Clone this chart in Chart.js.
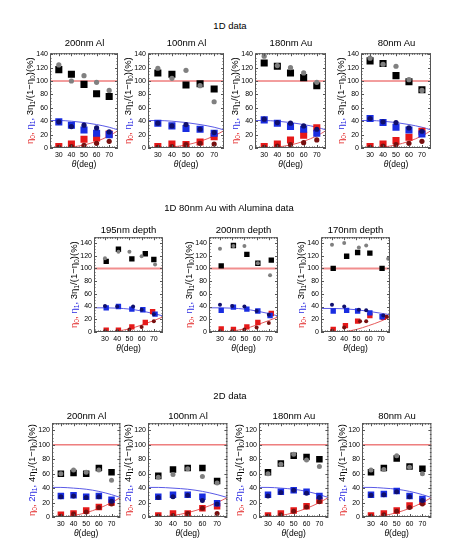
<!DOCTYPE html>
<html>
<head>
<meta charset="utf-8">
<script src="https://cdn.jsdelivr.net/npm/chart.js@4.4.0/dist/chart.umd.min.js"></script>
<style>
  body { margin: 0; background: #fff; font-family: "Liberation Sans", Arial, sans-serif; }
  #wrap { position: relative; width: 460px; height: 545px; overflow: hidden; }
  .lbl { position: absolute; font-size: 9.5px; color: #000; white-space: nowrap; transform: translate(-50%, -50%); }
  canvas { position: absolute; }
</style>
</head>
<body>
<div id="wrap"></div>
<script>
// ---- data ----
const angles = [30, 40, 50, 60, 70];
const xTicks = [30, 40, 50, 60, 70];

// 1D data (one row per panel, values at angles)
const titles1D = ['200nm Al', '100nm Al', '180nm Au', '80nm Au'];
const black1D = [[117, 110, 95, 81, 77], [112, 110, 94, 96, 88], [127, 122, 112, 105, 93], [130, 126, 108, 99, 87]];
const gray1D = [[124, 100, 108, 98, 86], [119, 104, 116, 93, 69], [137, 123, 120, 112, 98], [134, 125, 122, 102, 86]];
const blue1D = [[39, 34, 27, 22, 20], [37, 33, 29, 28, 22], [42, 37, 32, 28, 22], [44, 38, 31, 27, 21]];
const navy1D = [[39, 32, 34, 30, 24], [37, 33, 35, 28, 23], [43, 38, 37, 33, 28], [44, 39, 38, 30, 25]];
const red1D = [[2, 6, 13, 15, 21], [2, 6, 5, 9, 17], [2, 6, 12, 19, 30], [2, 6, 11, 16, 25]];
const maroon1D = [[1, 2, 4, 7, 10], [1, 2, 5, 7, 6], [1, 3, 5, 8, 12], [1, 3, 5, 7, 10]];
const blueTheory1D = [[23, 41], [30, 41], [40, 40], [50, 38], [60, 35], [70, 31], [77, 27]];
const redTheory1D = [[23, 0], [30, 0], [40, 1.5], [50, 4.5], [60, 10], [70, 18], [77, 26]];

// 1D 80nm Au with Alumina data ([angle, value] pairs, angles shift a little)
const titlesAl = ['195nm depth', '200nm depth', '170nm depth'];
const blackAl = [
  [[31, 111], [41, 130], [52, 115], [63, 123], [70, 114]],
  [[31, 104], [41, 136], [52, 122], [61, 108], [72, 113]],
  [[31, 100], [42, 119], [51, 125], [61, 124], [71, 100]]];
const grayAl = [
  [[30, 116], [41, 126], [50, 126], [60, 119], [71, 106]],
  [[30, 131], [41, 135], [50, 135], [61, 108], [71, 89]],
  [[30, 137], [40, 140], [52, 133], [58, 136], [76, 115]]];
const blueAl = [
  [[31, 38], [41, 40], [52, 36], [61, 35], [71, 28]],
  [[31, 34], [41, 39], [52, 36], [61, 33], [71, 26]],
  [[31, 33], [42, 34], [51, 33], [61, 30], [71, 24]]];
const navyAl = [
  [[30, 41], [40, 40], [53, 40], [60, 35], [70, 28]],
  [[30, 43], [40, 41], [50, 40], [60, 33], [70, 27]],
  [[30, 43], [40, 40], [52, 35], [58, 34], [72, 26]]];
const redAl = [
  [[31, 3], [41, 3], [52, 8], [63, 15], [69, 32]],
  [[31, 5], [41, 4], [52, 8], [61, 15], [72, 29]],
  [[31, 4], [41, 10], [51, 17], [61, 26], [72, 23]]];
const maroonAl = [
  [[30, 1], [40, 1], [50, 4], [60, 8], [70, 17]],
  [[30, 1], [40, 1], [50, 4], [60, 7], [70, 14]],
  [[30, 2], [40, 7], [53, 17], [58, 17], [75, 24]]];
const blueTheoryAl = [
  [[21, 38], [30, 38], [40, 37.5], [50, 36], [60, 33], [70, 29], [78, 25]],
  [[21, 38], [30, 38], [40, 37.5], [50, 36], [60, 33], [70, 29], [78, 25]],
  [[21, 37], [30, 37], [40, 36.5], [50, 35], [60, 32.5], [70, 29.5], [78, 27]]];
const redTheoryAl = [
  [[21, 0], [32, 0], [40, 1.5], [50, 5], [60, 11], [70, 18], [78, 24]],
  [[21, 0], [32, 0], [40, 1.5], [50, 5], [60, 11], [70, 18], [78, 24]],
  [[21, 0], [38, 0], [45, 2], [50, 4], [60, 10], [70, 17], [78, 24]]];

// 2D data
const titles2D = ['200nm Al', '100nm Al', '180nm Au', '80nm Au'];
const black2D = [[60, 61, 60, 68, 62], [57, 66, 68, 68, 50], [62, 74, 85, 83, 80], [62, 68, 81, 70, 67]];
const gray2D = [[60, 65, 62, 65, 51], [55, 59, 67, 56, 47], [60, 73, 87, 79, 70], [65, 66, 85, 69, 60]];
const blue2D = [[29, 30, 28, 29, 24], [28, 31, 31, 28, 19], [31, 35, 37, 35, 29], [31, 32, 36, 29, 25]];
const navy2D = [[28, 29, 27, 28, 22], [27, 28, 30, 23, 18], [29, 34, 37, 33, 27], [30, 31, 35, 28, 23]];
const red2D = [[3, 5, 9, 14, 20], [2, 5, 5, 12, 15], [2, 5, 9, 15, 23], [2, 5, 9, 16, 21]];
const maroon2D = [[1, 4, 7, 13, 18], [1, 2, 5, 12, 5], [1, 3, 8, 14, 21], [1, 3, 8, 13, 18]];
const blueTheory2D = [[23, 41], [30, 41], [40, 40], [50, 38.5], [60, 35.5], [70, 31], [77, 27]];
const redTheory2D = [[23, 0], [30, 0], [40, 2], [50, 6], [60, 12], [70, 20], [77, 27]];

// ---- layout / style ----
const FONT = '"Liberation Sans", Arial, sans-serif';
const RED = 'rgb(225,30,30)', BLUE = 'rgb(40,40,225)', BLK = '#000';
const PADL = 36, PADR = 4, PADT = 4, PADB = 26;

const yLabel3 = [['η', RED], ['0', RED, 1], [', ', RED], ['η', BLUE], ['1', BLUE, 1], [', ', BLUE],
  ['3η', BLK], ['1', BLK, 1], ['/(1−η', BLK], ['0', BLK, 1], [')(%)', BLK]];
const yLabel4 = [['η', RED], ['0', RED, 1], [', ', RED], ['2η', BLUE], ['1', BLUE, 1], [', ', BLUE],
  ['4η', BLK], ['1', BLK, 1], ['/(1−η', BLK], ['0', BLK, 1], [')(%)', BLK]];

const wrap = document.getElementById('wrap');

function addLabel(text, x, y) {
  const d = document.createElement('div');
  d.className = 'lbl';
  d.textContent = text;
  d.style.left = x + 'px';
  d.style.top = y + 'px';
  wrap.appendChild(d);
}

function drawRich(ctx, segs, x, y, size) {
  let total = 0;
  segs.forEach(s => {
    ctx.font = (s[2] ? size * 0.72 : size) + 'px ' + FONT;
    total += ctx.measureText(s[0]).width;
  });
  ctx.save();
  ctx.translate(x, y);
  ctx.rotate(-Math.PI / 2);
  ctx.textBaseline = 'middle';
  ctx.textAlign = 'left';
  let cx = -total / 2;
  segs.forEach(s => {
    ctx.font = (s[2] ? size * 0.72 : size) + 'px ' + FONT;
    ctx.fillStyle = s[1];
    ctx.fillText(s[0], cx, s[2] ? size * 0.3 : 0);
    cx += ctx.measureText(s[0]).width;
  });
  ctx.restore();
}

const decor = {
  id: 'decor',
  afterDraw(chart, args, o) {
    const { ctx, chartArea: a, scales: { x, y } } = chart;
    ctx.save();
    ctx.strokeStyle = '#555';
    ctx.lineWidth = 1;
    ctx.strokeRect(a.left + 0.5, a.top + 0.5, a.right - a.left - 1, a.bottom - a.top - 1);
    ctx.beginPath();
    for (let v = 20; v <= x.max; v += 2) {
      if (v < x.min) continue;
      const px = Math.round(x.getPixelForValue(v)) + 0.5;
      const len = v % 10 === 0 ? 3 : 1.5;
      ctx.moveTo(px, a.bottom); ctx.lineTo(px, a.bottom - len);
      ctx.moveTo(px, a.top); ctx.lineTo(px, a.top + len);
    }
    for (let v = 0; v <= y.max; v += 5) {
      const py = Math.round(y.getPixelForValue(v)) + 0.5;
      const len = v % 20 === 0 ? 3 : 1.5;
      ctx.moveTo(a.left, py); ctx.lineTo(a.left + len, py);
      ctx.moveTo(a.right, py); ctx.lineTo(a.right - len, py);
    }
    ctx.stroke();

    drawRich(ctx, o.ylabel, a.left - 20, (a.top + a.bottom) / 2, 9.5);

    // x title: italic theta + (deg)
    ctx.textBaseline = 'middle';
    ctx.fillStyle = '#000';
    ctx.font = 'italic 8.5px ' + FONT;
    const w1 = ctx.measureText('θ').width;
    ctx.font = '8.5px ' + FONT;
    const w2 = ctx.measureText('(deg)').width;
    const sx = (a.left + a.right) / 2 - (w1 + w2) / 2;
    const ty = a.bottom + 17;
    ctx.font = 'italic 8.5px ' + FONT;
    ctx.fillText('θ', sx, ty);
    ctx.font = '8.5px ' + FONT;
    ctx.fillText('(deg)', sx + w1, ty);
    ctx.restore();
  }
};

function xy(xs, ys) { return ys.map((v, i) => ({ x: xs[i], y: v })); }
function pairs(arr) { return arr.map(p => ({ x: p[0], y: p[1] })); }

function pointSet(data, color, style, r) {
  return { data, pointStyle: style, pointRadius: r, pointBackgroundColor: color,
    pointBorderColor: color, pointBorderWidth: 0, showLine: false };
}
function lineSet(data, color, w) {
  return { data, borderColor: color, borderWidth: w, pointRadius: 0, showLine: true,
    cubicInterpolationMode: 'monotone', fill: false };
}

function makePanel(p) {
  const W = p.right - p.left + PADL + PADR;
  const H = p.bottom - p.top + PADT + PADB;
  const cv = document.createElement('canvas');
  cv.width = W; cv.height = H;
  cv.style.left = (p.left - PADL) + 'px';
  cv.style.top = (p.top - PADT) + 'px';
  wrap.appendChild(cv);
  addLabel(p.title, (p.left + p.right) / 2, p.titleY);

  const s = p.sq, c = p.ci;
  new Chart(cv, {
    type: 'scatter',
    data: {
      datasets: [
        pointSet(p.gray, 'rgb(128,128,128)', 'circle', c),
        pointSet(p.navy, 'rgb(15,15,110)', 'circle', c),
        pointSet(p.maroon, 'rgb(120,15,15)', 'circle', c),
        pointSet(p.black, '#000', 'rect', s),
        pointSet(p.blue, 'rgb(25,45,225)', 'rect', s),
        pointSet(p.red, 'rgb(230,25,25)', 'rect', s),
        lineSet([{ x: p.xmin, y: 100 }, { x: p.xmax, y: 100 }], p.hColor, p.hWidth),
        lineSet(pairs(p.redT), 'rgb(230,90,90)', 1),
        lineSet(pairs(p.blueT), 'rgb(90,90,230)', 1)
      ]
    },
    options: {
      responsive: false,
      animation: false,
      devicePixelRatio: 1,
      layout: { padding: { left: 0, right: PADR, top: PADT, bottom: 0 } },
      plugins: { legend: { display: false }, tooltip: { enabled: false }, decor: { ylabel: p.ylabel } },
      scales: {
        x: {
          type: 'linear', min: p.xmin, max: p.xmax,
          afterBuildTicks: sc => { sc.ticks = xTicks.map(v => ({ value: v })); },
          afterFit: sc => { sc.height = PADB; },
          grid: { display: false, drawTicks: false }, border: { display: false },
          ticks: { color: '#000', font: { size: 7, family: FONT }, padding: 3, maxRotation: 0 }
        },
        y: {
          type: 'linear', min: 0, max: p.ymax,
          afterBuildTicks: sc => { sc.ticks = p.yTicks.map(v => ({ value: v })); },
          afterFit: sc => { sc.width = PADL; },
          grid: { display: false, drawTicks: false }, border: { display: false },
          ticks: { color: '#000', font: { size: 7, family: FONT }, padding: 2 }
        }
      }
    },
    plugins: [decor]
  });
}

const yTicks140 = [0, 20, 40, 60, 80, 100, 120, 140];
const yTicks120 = [0, 20, 40, 60, 80, 100, 120];

// row 1
addLabel('1D data', 230, 25);
const boxes1 = [[50, 119], [148, 225], [255, 327], [361, 432]];
boxes1.forEach((b, i) => makePanel({
  left: b[0], right: b[1], top: 51, bottom: 148, titleY: 42, title: titles1D[i],
  xmin: 23, xmax: 77, ymax: 141.5, yTicks: yTicks140, ylabel: yLabel3, sq: 5, ci: 2.6,
  hColor: 'rgb(230,60,60)', hWidth: 1,
  black: xy(angles, black1D[i]), gray: xy(angles, gray1D[i]), blue: xy(angles, blue1D[i]),
  navy: xy(angles, navy1D[i]), red: xy(angles, red1D[i]), maroon: xy(angles, maroon1D[i]),
  blueT: blueTheory1D, redT: redTheory1D
}));

// row 2
addLabel('1D 80nm Au with Alumina data', 229, 207);
const boxes2 = [[94, 163], [209, 278], [321, 390]];
boxes2.forEach((b, i) => makePanel({
  left: b[0], right: b[1], top: 235, bottom: 332, titleY: 229, title: titlesAl[i],
  xmin: 21, xmax: 77.5, ymax: 149, yTicks: yTicks140, ylabel: yLabel3, sq: 3.8, ci: 2,
  hColor: 'rgba(240,130,130,0.9)', hWidth: 2,
  black: pairs(blackAl[i]), gray: pairs(grayAl[i]), blue: pairs(blueAl[i]),
  navy: pairs(navyAl[i]), red: pairs(redAl[i]), maroon: pairs(maroonAl[i]),
  blueT: blueTheoryAl[i], redT: redTheoryAl[i]
}));

// row 3
addLabel('2D data', 230, 395);
const boxes3 = [[52, 121], [148, 228], [259, 329], [362, 432]];
boxes3.forEach((b, i) => makePanel({
  left: b[0], right: b[1], top: 421, bottom: 517, titleY: 415, title: titles2D[i],
  xmin: 23, xmax: 77, ymax: 130, yTicks: yTicks120, ylabel: yLabel4, sq: 4.6, ci: 2.5,
  hColor: 'rgb(230,60,60)', hWidth: 1,
  black: xy(angles, black2D[i]), gray: xy(angles, gray2D[i]), blue: xy(angles, blue2D[i]),
  navy: xy(angles, navy2D[i]), red: xy(angles, red2D[i]), maroon: xy(angles, maroon2D[i]),
  blueT: blueTheory2D, redT: redTheory2D
}));
</script>
</body>
</html>
